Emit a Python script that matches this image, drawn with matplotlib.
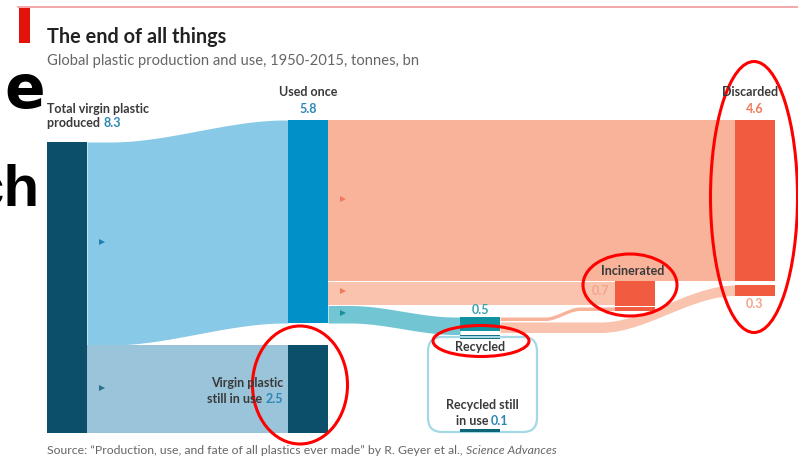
import numpy as np
import matplotlib.pyplot as plt
from matplotlib.patches import Ellipse, FancyBboxPatch, Rectangle

# values, tonnes bn
total_virgin = 8.3
used_once = 5.8
virgin_in_use = 2.5
discarded = 4.6
incinerated = 0.7
recycled = 0.5
recycled_to_incinerated = 0.1
recycled_to_discarded = 0.3
recycled_in_use = 0.1

title = "The end of all things"
subtitle = "Global plastic production and use, 1950-2015, tonnes, bn"
source = "Source: \u201cProduction, use, and fate of all plastics ever made\u201d by R. Geyer et al., "
source_journal = "Science Advances"

plt.rcParams['font.family'] = ['Lato', 'DejaVu Sans']

fig = plt.figure(figsize=(7.98, 4.62), dpi=100)
ax = fig.add_axes([0, 0, 1, 1])
ax.set_xlim(0, 798)
ax.set_ylim(462, 0)
ax.axis("off")

S = 35.0  # px per bn tonnes
W = 40    # node width

navy = "#0b4f6a"
lightblue = "#87c9e7"
usedblue = "#0091c9"
greyblue = "#99c4d9"
salmon = "#f8b39a"
salmon2 = "#fac3ad"
red = "#f15b40"
teal_flow = "#72c6d3"
teal = "#10939f"
darkteal = "#0c6478"
txt = "#3a3a3a"
numblue = "#2b87b6"
numred = "#f07a5c"


def band(x0, x1, y0, y1, h, color, xs0=None, xs1=None):
    xs = np.linspace(x0, x1, 300)
    a = x0 if xs0 is None else xs0
    b = x1 if xs1 is None else xs1
    t = np.clip((xs - a) / (b - a), 0, 1)
    s = t * t * (3 - 2 * t)
    top = y0 + (y1 - y0) * s
    ax.fill_between(xs, top, top + h, color=color, lw=0)


def node(x, y, h, color):
    ax.add_patch(Rectangle((x, y), W, h, color=color, lw=0))


# columns
x_total, x_used, x_rec, x_inc, x_disc = 47, 288, 460, 615, 735
top0 = 142
used_top = 120
rec_top = 317

# produced -> used once / still in use
node(x_total, top0, total_virgin * S, navy)
band(x_total + W, x_used, top0, used_top, used_once * S, lightblue, 110, 285)
y_vin = top0 + used_once * S
band(x_total + W, x_used, y_vin, y_vin, virgin_in_use * S, greyblue)
node(x_used, used_top, used_once * S, usedblue)
node(x_used, y_vin, virgin_in_use * S, navy)

# used once -> discarded / incinerated / recycled
band(x_used + W, x_disc, used_top, used_top, discarded * S, salmon)
y_inc = used_top + discarded * S
band(x_used + W, x_inc, y_inc + 1, y_inc + 1, incinerated * S - 2, salmon2)
y_rec0 = y_inc + incinerated * S
band(x_used + W, x_rec, y_rec0, rec_top, recycled * S, teal_flow, 350, 455)

# recycled node
rec_out = (recycled - recycled_in_use) * S
node(x_rec, rec_top, rec_out, teal)
ax.add_patch(Rectangle((x_rec, rec_top + rec_out + 4), W, recycled_in_use * S,
                       color=darkteal, lw=0))

# recycled -> incinerated / discarded
band(x_rec + W, x_inc, rec_top, y_rec0 + 1.5, recycled_to_incinerated * S, salmon, 545, 580)
disc2_top = y_inc + 4
band(x_rec + W, x_disc, rec_top + recycled_to_incinerated * S + 1.5, disc2_top,
     recycled_to_discarded * S, salmon2, 600, 735)

# incinerated and discarded nodes
node(x_inc, y_inc, incinerated * S, red)
node(x_inc, y_inc + incinerated * S + 1.5, recycled_to_incinerated * S, red)
node(x_disc, used_top, discarded * S, red)
node(x_disc, disc2_top, recycled_to_discarded * S, red)

# recycled still in use box
ax.add_patch(FancyBboxPatch((428, 337), 109, 95, boxstyle="round,pad=0,rounding_size=14",
                            fill=False, edgecolor="#a3d8e5", lw=1.6))
ax.add_patch(Rectangle((x_rec, 432 - recycled_in_use * S), W, recycled_in_use * S,
                       color=darkteal, lw=0))

# small arrow markers
for (mx, my, mc) in [(102, 242, "#1f7fae"), (102, 388, "#2c6f8e"), (343, 199, "#f07a5c"),
                     (343, 291, "#f07a5c"), (343, 313, "#14909c")]:
    ax.plot(mx, my, marker=">", ms=4, color=mc, mew=0)

# header
ax.plot([18, 798], [7, 7], color="#f09a9a", lw=1.2)
ax.add_patch(Rectangle((19, 8), 11, 35, color="#e3120b", lw=0))
ax.text(47, 43, title, fontsize=14.3, fontweight="bold", color="#222222", va="baseline")
ax.text(47, 65, subtitle, fontsize=10.6, color="#666666", va="baseline")

FS = 9.0


def label(x, y, s, num=None, ncol=numblue, ha="left", fs=FS, color=txt):
    if num is None:
        return ax.text(x, y, s, fontsize=fs, fontweight="bold", color=color, ha=ha, va="baseline")
    if ha == "left":
        t = ax.text(x, y, s + " ", fontsize=fs, fontweight="bold", color=color, ha="left", va="baseline")
        ax.annotate(num, xy=(1, 0), xycoords=t, fontsize=fs, fontweight="bold", color=ncol,
                    ha="left", va="bottom")
    elif ha == "right":
        t = ax.text(x, y, num, fontsize=fs, fontweight="bold", color=ncol, ha="right", va="baseline")
        ax.annotate(s + " ", xy=(0, 0), xycoords=t, fontsize=fs, fontweight="bold", color=color,
                    ha="right", va="bottom")
    else:
        t = ax.text(x, y, s + " " + num, fontsize=fs, fontweight="bold", color=color, ha="center",
                    va="baseline", alpha=0)
        t2 = ax.annotate(s + " ", xy=(0, 0), xycoords=t, fontsize=fs, fontweight="bold",
                         color=color, ha="left", va="bottom")
        ax.annotate(num, xy=(1, 0), xycoords=t2, fontsize=fs, fontweight="bold", color=ncol,
                    ha="left", va="bottom")


label(47, 113, "Total virgin plastic")
label(47, 127, "produced", f"{total_virgin}")
label(308, 96, "Used once", ha="center")
label(308, 113, f"{used_once}", ha="center", color=numblue)
label(283, 387, "Virgin plastic", ha="right")
label(283, 403, "still in use", f"{virgin_in_use}", ha="right")
label(750, 96, "Discarded", ha="center")
label(755, 113, f"{discarded}", ha="center", color=numred)
label(633, 275, "Incinerated", ha="center")
label(609, 295, f"{incinerated}", ha="right", color="#f4a58c")
label(480, 314, f"{recycled}", ha="center", color="#3aa3b0")
label(480, 351, "Recycled", ha="center")
label(755, 308, f"{recycled_to_discarded}", ha="center", color="#f4a58c")
label(482, 409, "Recycled still", ha="center")
label(482, 425, "in use", f"{recycled_in_use}", ha="center")

st = ax.text(47, 454, source, fontsize=8.8, color="#666666", va="baseline")
ax.annotate(source_journal, xy=(1, 0), xycoords=st, fontsize=8.8, color="#666666",
            style="italic", ha="left", va="bottom")

# slide text cut at left
ax.text(45, 108, "e", fontsize=43, fontweight="bold", color="black", ha="right", va="baseline",
        family=["DejaVu Sans"])
ax.text(40, 205, "ch", fontsize=42, fontweight="bold", color="black", ha="right", va="baseline",
        family=["Liberation Sans", "DejaVu Sans"])

# red annotation ellipses
for (cx, cy, ew, eh) in [(754, 197, 87, 271), (630, 285, 94, 62), (481, 341, 96, 31),
                         (300, 385, 95, 118)]:
    ax.add_patch(Ellipse((cx, cy), ew, eh, fill=False, edgecolor="#ff0000", lw=2.2))

fig.savefig("out.png", dpi=100)
